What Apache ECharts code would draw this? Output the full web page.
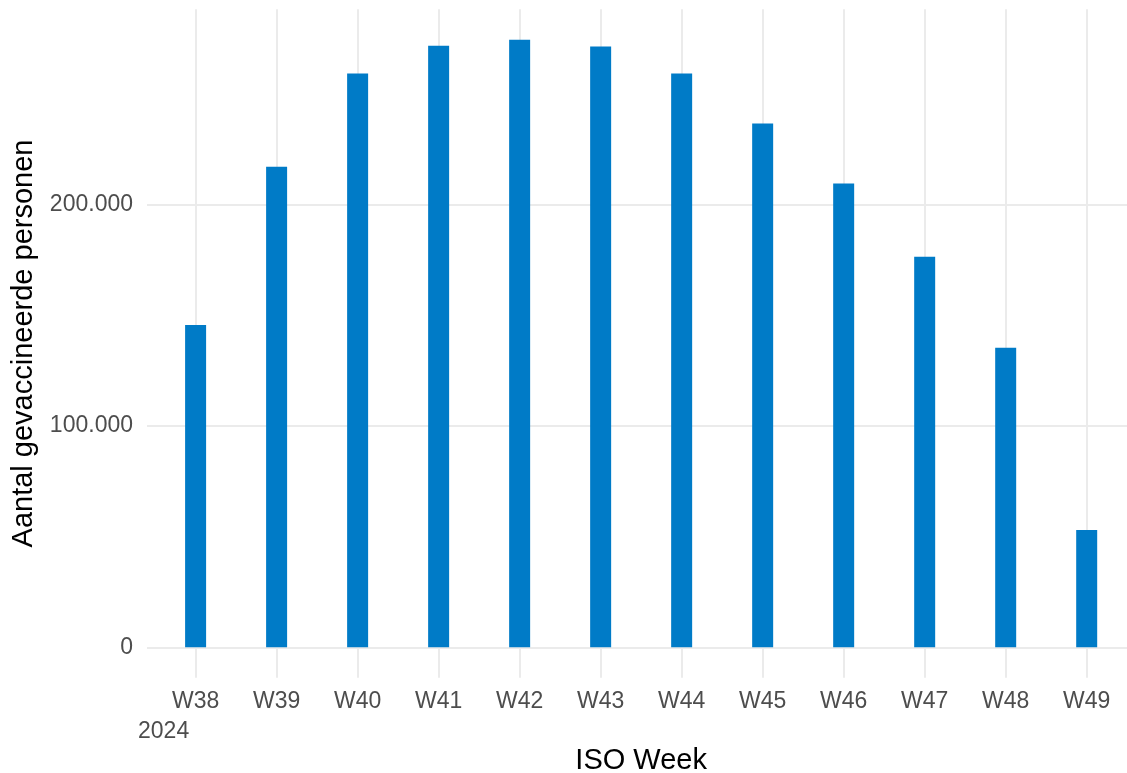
<!DOCTYPE html>
<html>
<head>
<meta charset="utf-8">
<script src="https://cdn.jsdelivr.net/npm/echarts@6/dist/echarts.min.js"></script>
<style>html,body{margin:0;padding:0;background:#fff}#chart{width:1127px;height:773px}</style>
</head>
<body>
<div id="chart"></div>
<script>
const categories = ['W38','W39','W40','W41','W42','W43','W44','W45','W46','W47','W48','W49'];
const yearLabel = '2024';
const values = [145600, 217000, 259100, 271700, 274400, 271300, 259100, 236500, 209400, 176400, 135300, 53000];
const yTicks = [0, 100000, 200000];

const FONT = "'Liberation Sans', Arial, sans-serif";
const maxV = Math.max(...values);
const yMax = maxV * 1.05;
const yMin = -maxV * 0.05;
const xIdx = categories.map((c, i) => i);

function fmt(v) {
  return String(Math.round(v)).replace(/\B(?=(\d{3})+(?!\d))/g, '.');
}

const chart = echarts.init(document.getElementById('chart'), null, {renderer: 'canvas'});
chart.setOption({
  animation: false,
  backgroundColor: '#ffffff',
  textStyle: {fontFamily: FONT},
  grid: {left: 147, top: 9.3, width: 988.3, height: 668.4, containLabel: false, outerBoundsMode: 'none'},
  xAxis: [{
    type: 'value',
    min: -0.6,
    max: categories.length - 1 + 0.6,
    name: 'ISO Week',
    nameLocation: 'middle',
    nameGap: 69,
    nameTextStyle: {fontSize: 29, color: '#000000', fontFamily: FONT},
    axisLine: {show: false, onZero: false},
    axisTick: {show: false, customValues: xIdx},
    axisLabel: {
      customValues: xIdx,
      margin: 12,
      fontSize: 23,
      color: '#4d4d4d',
      fontFamily: FONT,
      hideOverlap: false,
      formatter: function (v) { return categories[Math.round(v)]; }
    },
    splitLine: {show: true, lineStyle: {color: '#ebebeb', width: 2}}
  }, {
    type: 'value',
    gridIndex: 0,
    position: 'bottom',
    offset: 30,
    min: -0.6,
    max: categories.length - 1 + 0.6,
    axisLine: {show: false, onZero: false},
    axisTick: {show: false, customValues: [0]},
    splitLine: {show: false},
    axisLabel: {
      customValues: [0],
      margin: 12,
      fontSize: 23,
      color: '#4d4d4d',
      fontFamily: FONT,
      padding: [0, 64, 0, 0],
      formatter: function () { return yearLabel; }
    }
  }],
  yAxis: {
    type: 'value',
    min: yMin,
    max: yMax,
    name: 'Aantal gevaccineerde personen',
    nameLocation: 'middle',
    nameGap: 108,
    nameRotate: 90,
    nameTextStyle: {fontSize: 29, color: '#000000', fontFamily: FONT},
    axisLine: {show: false},
    axisTick: {show: false, customValues: yTicks},
    axisLabel: {
      customValues: yTicks,
      margin: 14,
      fontSize: 23,
      color: '#4d4d4d',
      fontFamily: FONT,
      formatter: function (v) { return fmt(v); }
    },
    splitLine: {show: true, lineStyle: {color: '#ebebeb', width: 2}}
  },
  series: [{
    type: 'bar',
    xAxisIndex: 0,
    barWidth: 21,
    itemStyle: {color: '#007BC7'},
    data: values.map((v, i) => [i, v])
  }]
});
</script>
</body>
</html>
